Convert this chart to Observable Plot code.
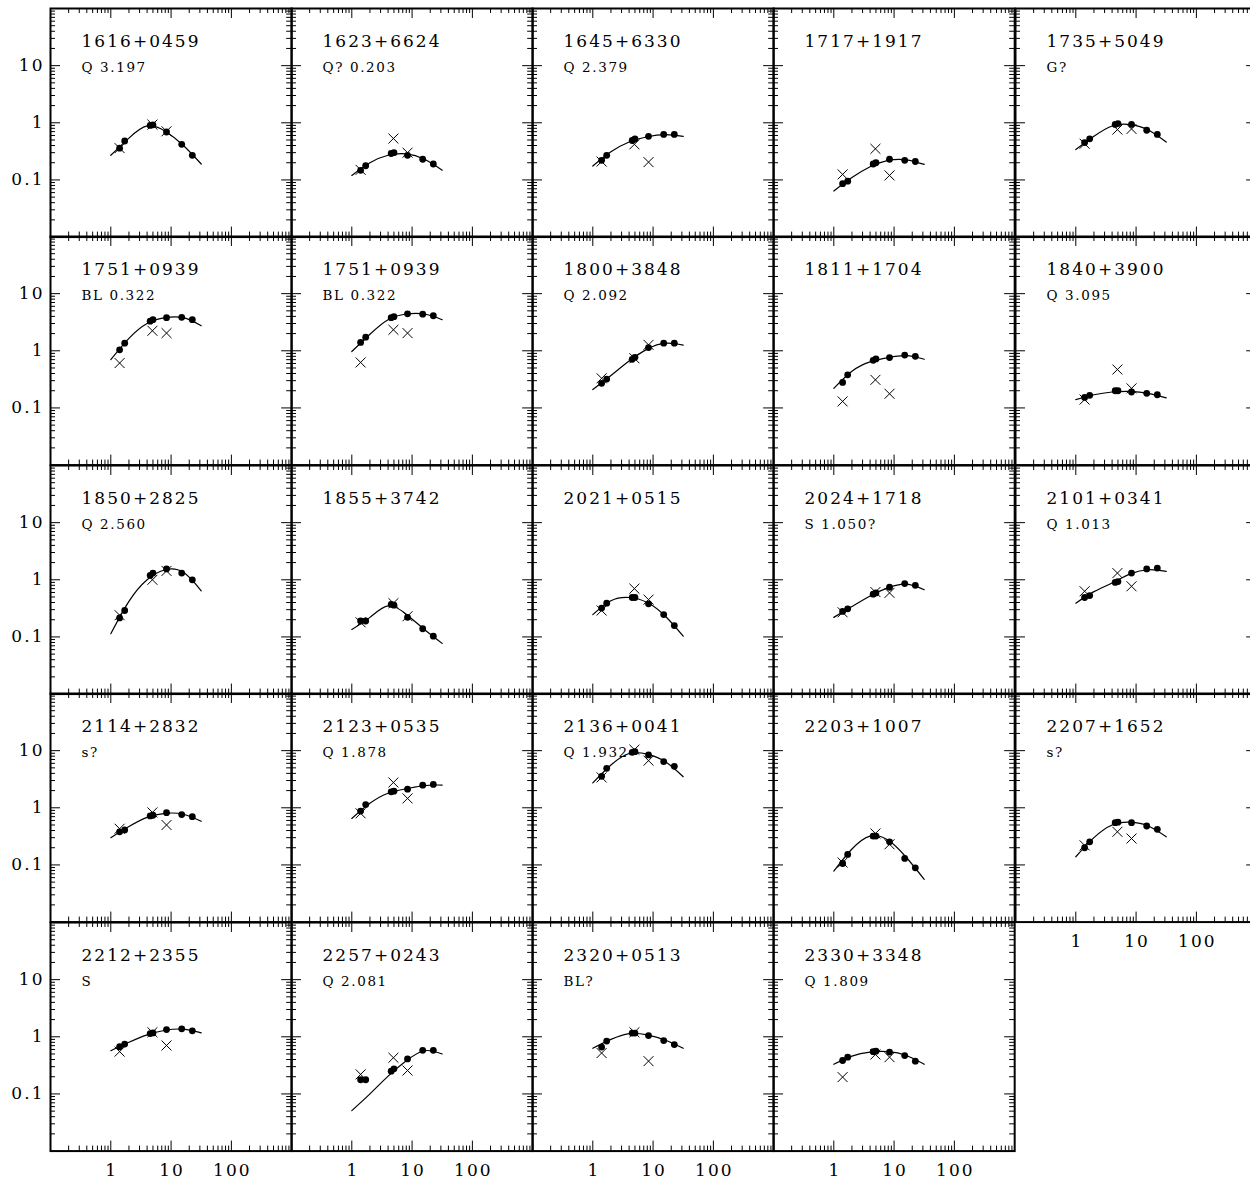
<!DOCTYPE html>
<html><head><meta charset="utf-8">
<script src="https://cdn.jsdelivr.net/npm/d3@7"></script>
<script src="https://cdn.jsdelivr.net/npm/@observablehq/plot@0.6"></script>
<style>
html, body { margin:0; padding:0; background:#fff; overflow:hidden; }
#chart { position:relative; width:1250px; height:1184px; overflow:hidden; background:#fff; }
#chart svg { position:absolute; overflow:visible; }
#chart svg text { letter-spacing: 0.12em; }
</style></head><body><div id="chart"></div>
<script>
// ---- data ----
const names = ["1616+0459","1623+6624","1645+6330","1717+1917","1735+5049",
  "1751+0939","1751+0939","1800+3848","1811+1704","1840+3900",
  "1850+2825","1855+3742","2021+0515","2024+1718","2101+0341",
  "2114+2832","2123+0535","2136+0041","2203+1007","2207+1652",
  "2212+2355","2257+0243","2320+0513","2330+3348"];
const types = ["Q 3.197","Q? 0.203","Q 2.379","","G?",
  "BL 0.322","BL 0.322","Q 2.092","","Q 3.095",
  "Q 2.560","","","S 1.050?","Q 1.013",
  "s?","Q 1.878","Q 1.932","","s?",
  "S","Q 2.081","BL?","Q 1.809"];
// filled dots: recent epoch
const dotFreq = [1.4, 1.7, 4.5, 5.0, 8.4, 15, 22.5];
const dotFlux = [
  [0.36, 0.48, 0.90, 0.92, 0.69, 0.42, 0.27],
  [0.147, 0.177, 0.29, 0.30, 0.27, 0.23, 0.19],
  [0.22, 0.27, 0.49, 0.52, 0.58, 0.625, 0.625],
  [0.086, 0.095, 0.19, 0.20, 0.23, 0.22, 0.21],
  [0.45, 0.525, 0.935, 0.97, 0.935, 0.74, 0.625],
  [1.04, 1.36, 3.3, 3.5, 3.8, 3.85, 3.5],
  [1.40, 1.73, 3.8, 3.95, 4.44, 4.38, 4.1],
  [0.27, 0.32, 0.71, 0.77, 1.14, 1.36, 1.36],
  [0.28, 0.38, 0.68, 0.72, 0.76, 0.84, 0.80],
  [0.153, 0.166, 0.20, 0.20, 0.19, 0.18, 0.17],
  [0.215, 0.29, 1.19, 1.31, 1.55, 1.31, 1.0],
  [0.19, 0.19, 0.37, 0.36, 0.22, 0.139, 0.103],
  [0.32, 0.39, 0.49, 0.49, 0.38, 0.246, 0.158],
  [0.28, 0.31, 0.56, 0.59, 0.74, 0.86, 0.80],
  [0.49, 0.53, 0.90, 0.93, 1.31, 1.55, 1.6],
  [0.38, 0.41, 0.72, 0.74, 0.82, 0.76, 0.70],
  [0.875, 1.14, 1.9, 1.95, 2.12, 2.49, 2.56],
  [3.56, 4.91, 9.35, 9.6, 8.4, 6.42, 5.32],
  [0.106, 0.153, 0.32, 0.32, 0.254, 0.13, 0.089],
  [0.20, 0.254, 0.55, 0.56, 0.55, 0.48, 0.42],
  [0.67, 0.745, 1.14, 1.17, 1.34, 1.38, 1.27],
  [0.177, 0.177, 0.25, 0.275, 0.41, 0.58, 0.58],
  [0.66, 0.84, 1.16, 1.16, 1.05, 0.86, 0.73],
  [0.385, 0.44, 0.55, 0.56, 0.54, 0.47, 0.375]
];
// crosses: earlier epoch
const crossFreq = [1.4, 4.9, 8.4];
const crossFlux = [
  [0.36, 0.93, 0.71],[0.15, 0.53, 0.30],[0.21, 0.42, 0.205],[0.125, 0.35, 0.12],[0.43, 0.76, 0.78],
  [0.61, 2.24, 2.04],[0.625, 2.33, 2.04],[0.33, 0.74, 1.27],[0.13, 0.31, 0.177],[0.14, 0.47, 0.22],
  [0.24, 1.0, 1.43],[0.18, 0.39, 0.23],[0.29, 0.70, 0.45],[0.27, 0.61, 0.59],[0.63, 1.31, 0.77],
  [0.43, 0.83, 0.50],[0.80, 2.77, 1.46],[3.4, 10.4, 6.68],[0.11, 0.355, 0.23],[0.22, 0.38, 0.29],
  [0.55, 1.2, 0.705],[0.22, 0.43, 0.257],[0.52, 1.2, 0.375],[0.197, 0.49, 0.44]
];
// fitted spectrum, read at these frequencies
const curveFreq = [1, 2, 4, 8, 16, 31.6];
const curveFlux = [
  [0.27, 0.54, 0.88, 0.71, 0.40, 0.19],
  [0.12, 0.20, 0.27, 0.285, 0.23, 0.148],
  [0.175, 0.31, 0.46, 0.57, 0.62, 0.58],
  [0.064, 0.11, 0.17, 0.22, 0.225, 0.187],
  [0.34, 0.58, 0.88, 0.93, 0.75, 0.46],
  [0.70, 1.65, 3.0, 3.8, 3.8, 2.75],
  [0.97, 1.95, 3.5, 4.4, 4.4, 3.5],
  [0.21, 0.37, 0.66, 1.07, 1.36, 1.26],
  [0.22, 0.44, 0.64, 0.76, 0.82, 0.71],
  [0.14, 0.17, 0.19, 0.195, 0.18, 0.15],
  [0.114, 0.42, 1.0, 1.5, 1.35, 0.64],
  [0.135, 0.22, 0.35, 0.25, 0.135, 0.077],
  [0.246, 0.43, 0.49, 0.40, 0.23, 0.103],
  [0.22, 0.34, 0.52, 0.73, 0.84, 0.67],
  [0.39, 0.62, 0.88, 1.27, 1.5, 1.40],
  [0.30, 0.47, 0.68, 0.80, 0.77, 0.58],
  [0.65, 1.2, 1.8, 2.15, 2.45, 2.5],
  [2.72, 5.6, 8.9, 8.7, 6.4, 3.5],
  [0.078, 0.19, 0.32, 0.27, 0.135, 0.056],
  [0.139, 0.30, 0.50, 0.56, 0.48, 0.31],
  [0.57, 0.80, 1.08, 1.3, 1.36, 1.17],
  [0.051, 0.10, 0.205, 0.38, 0.57, 0.50],
  [0.63, 0.90, 1.14, 1.08, 0.87, 0.63],
  [0.33, 0.46, 0.54, 0.55, 0.47, 0.33]
];
const xTickLabels = [1, 10, 100];
const yTickLabels = [0.1, 1, 10];
const xDomain = [0.1, 1000];
const yDomain = [0.01, 100];

// ---- layout ----
const PW = 241.2, PH = 228.6, X0 = 49.7, Y0 = 7.5;
const isPow10 = t => Math.abs(Math.log10(t) - Math.round(Math.log10(t))) < 1e-9;
const inside = (t, dom) => t > dom[0] * 1.0001 && t < dom[1] / 1.0001;
const xAll = d3.scaleLog().domain(xDomain).ticks().filter(t => inside(t, xDomain));
const yAll = d3.scaleLog().domain(yDomain).ticks().filter(t => inside(t, yDomain));
const xMajor = xAll.filter(isPow10), xMinor = xAll.filter(t => !isPow10(t));
const yMajor = yAll.filter(isPow10), yMinor = yAll.filter(t => !isPow10(t));

const chart = document.getElementById("chart");
const FONT = "DejaVu Serif";

names.forEach((name, i) => {
  const col = i % 5, row = Math.floor(i / 5);
  const leftAxis = col === 0;
  const bottomAxis = row === 4 || i === 19;
  const ml = leftAxis ? 50 : 0, mb = bottomAxis ? 34 : 0;
  const dots = dotFreq.map((f, k) => ({f, s: dotFlux[i][k]}));
  const crosses = crossFreq.map((f, k) => ({f, s: crossFlux[i][k]}));
  const curve = curveFreq.map((f, k) => ({f, s: curveFlux[i][k]}));
  const marks = [
    Plot.tickX(xMinor, {x: d => d, insetBottom: PH - 5, strokeWidth: 1}),
    Plot.tickX(xMinor, {x: d => d, insetTop: PH - 5, strokeWidth: 1}),
    Plot.tickX(xMajor, {x: d => d, insetBottom: PH - 10, strokeWidth: 1}),
    Plot.tickX(xMajor, {x: d => d, insetTop: PH - 10, strokeWidth: 1}),
    Plot.tickY(yMinor, {y: d => d, insetRight: PW - 5, strokeWidth: 1}),
    Plot.tickY(yMinor, {y: d => d, insetLeft: PW - 5, strokeWidth: 1}),
    Plot.tickY(yMajor, {y: d => d, insetRight: PW - 10, strokeWidth: 1}),
    Plot.tickY(yMajor, {y: d => d, insetLeft: PW - 10, strokeWidth: 1}),
    Plot.line(curve, {x: "f", y: "s", curve: "natural", stroke: "black", strokeWidth: 1.2}),
    Plot.dot(crosses, {x: "f", y: "s", symbol: "times", r: 4.6, stroke: "black", strokeWidth: 1}),
    Plot.dot(dots, {x: "f", y: "s", r: 3.4, fill: "black"}),
    Plot.text([name], {text: d => d, frameAnchor: "top-left", dx: 31, dy: 39, lineAnchor: "bottom",
      textAnchor: "start", fontSize: 17, fontFamily: FONT}),
    Plot.text([types[i]], {text: d => d, frameAnchor: "top-left", dx: 31, dy: 63.5, lineAnchor: "bottom",
      textAnchor: "start", fontSize: 13.5, fontFamily: FONT}),
    Plot.frame({stroke: "black", strokeWidth: 2})
  ];
  if (leftAxis) marks.push(Plot.axisY({ticks: yTickLabels, anchor: "left", tickSize: 0, tickPadding: 6,
    tickFormat: d => String(d), label: null, fontSize: 17, fontFamily: FONT}));
  if (bottomAxis) marks.push(Plot.axisX({ticks: xTickLabels, anchor: "bottom", tickSize: 0, tickPadding: 13,
    tickFormat: d => String(d), label: null, fontSize: 17, fontFamily: FONT, dx: 1}));
  const svg = Plot.plot({
    width: PW + ml, height: PH + mb,
    marginLeft: ml, marginRight: 0, marginTop: 0, marginBottom: mb,
    x: {type: "log", domain: xDomain, axis: null},
    y: {type: "log", domain: yDomain, axis: null},
    style: {background: "transparent", overflow: "visible", fontFamily: FONT, fontSize: "17px", color: "black"},
    marks
  });
  svg.style.left = (X0 + col * PW - ml) + "px";
  svg.style.top = (Y0 + row * PH) + "px";
  svg.style.maxWidth = "none";
  chart.appendChild(svg);
});
</script></body></html>
